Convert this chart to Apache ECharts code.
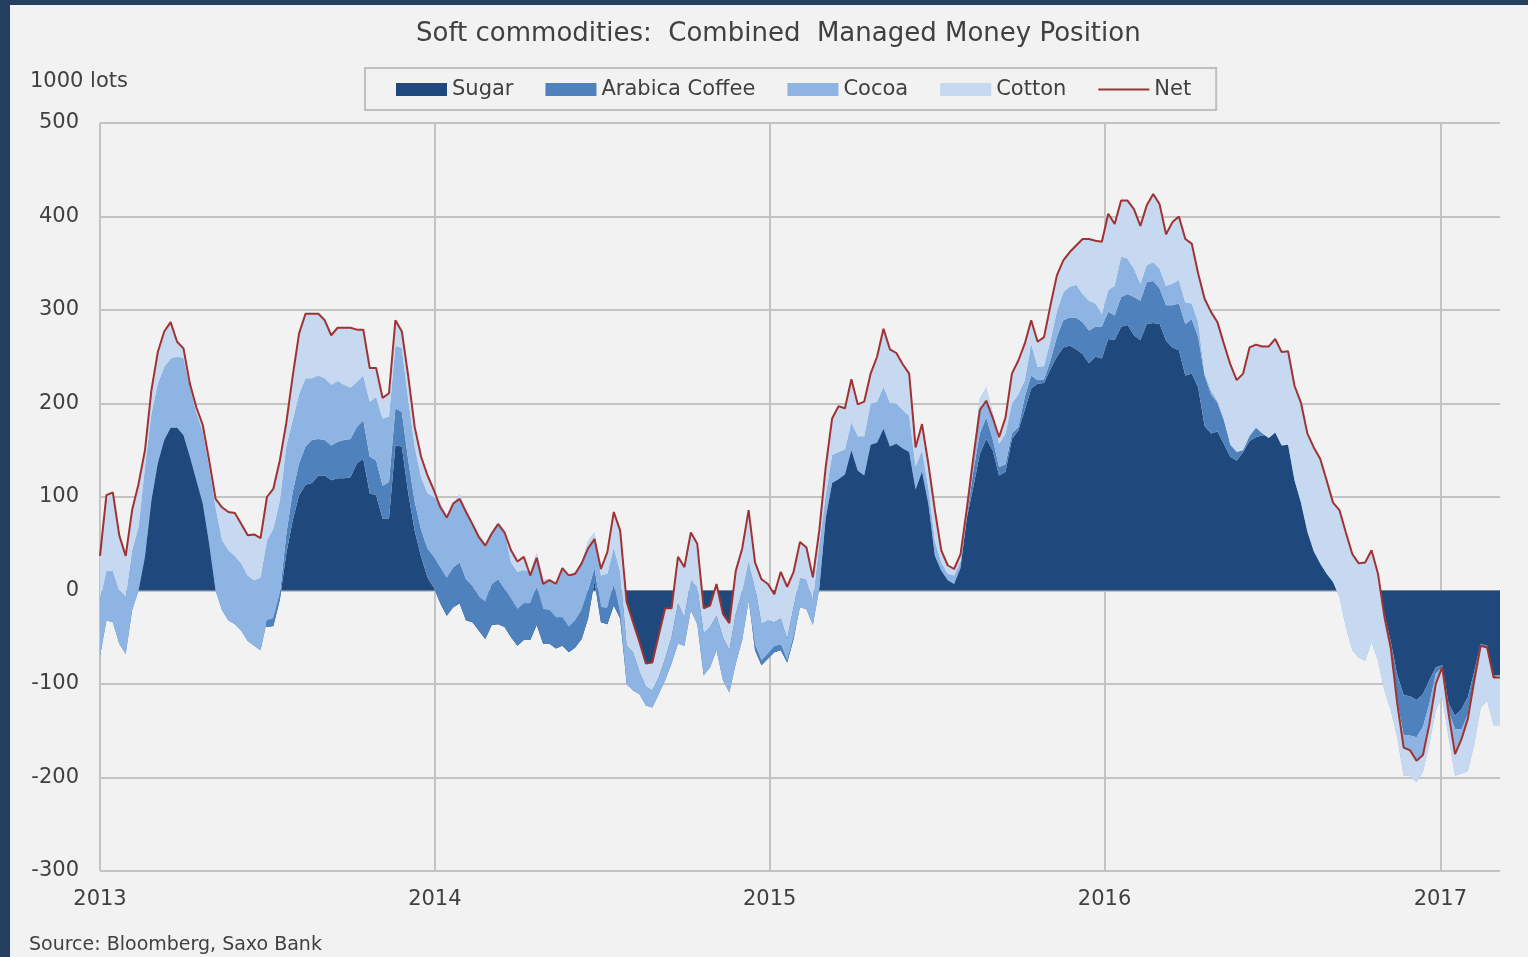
<!DOCTYPE html>
<html>
<head>
<meta charset="utf-8">
<title>Soft commodities: Combined Managed Money Position</title>
<script src="https://cdn.jsdelivr.net/npm/echarts@6.0.0/dist/echarts.min.js"></script>
<style>
html, body { margin: 0; padding: 0; background: #f2f2f2; }
#chart { width: 1528px; height: 957px; }
</style>
</head>
<body>
<div id="chart"></div>
<script>
// weekly CFTC reports, first one on 2013-01-01, 219 weeks
const firstWeek = Date.UTC(2013, 0, 1);
const weekCount = 219;
const weeks = [];
for (let i = 0; i < weekCount; i++) {
    weeks.push(new Date(firstWeek + i * 7 * 86400000).toISOString().slice(0, 10));
}

// 1000 lots
const sugar = [-40,-20,-20,-30,-35,-10,4,40,100,140,
    165,178,177,170,147,122,97,54,3,-10,
    -15,-18,-22,-28,-30,-32,-39,-38,-10,39,
    75,102,113,115,123,123,118,120,120,121,
    136,141,104,102,77,77,155,154,104,64,
    36,14,3,-14,-27,-18,-14,-32,-34,-43,
    -52,-37,-36,-39,-50,-59,-53,-53,-37,-57,
    -57,-62,-59,-66,-61,-52,-30,10,-34,-36,
    -16,-30,-98,-104,-110,-121,-122,-109,-95,-75,
    -55,-55,-18,-34,-90,-79,-62,-94,-106,-77,
    -51,-8,-64,-80,-73,-66,-64,-77,-52,-16,
    -18,-35,4,80,116,121,127,152,129,125,
    159,160,175,155,160,154,150,109,129,95,
    39,22,13,9,27,78,111,146,162,150,
    123,127,162,171,193,216,221,222,237,250,
    260,262,258,253,243,250,248,269,268,282,
    284,273,268,285,286,285,267,260,257,230,
    232,217,176,168,170,157,143,139,148,160,
    164,166,166,174,158,162,124,98,67,48,
    34,23,14,-3,-15,-25,-28,-30,-22,-25,
    -25,-55,-90,-112,-113,-117,-111,-96,-82,-80,
    -121,-134,-127,-114,-86,-57,-59,-91,-91];

const arabicaCoffee = [-30,-12,-14,-27,-33,-11,-4,-4,-4,-4,
    -4,-4,-3,-4,-4,-4,-4,-4,-3,-11,
    -17,-18,-21,-26,-29,-32,7,8,6,21,
    30,34,41,46,39,38,37,39,41,41,
    39,41,39,37,35,39,40,37,35,31,
    29,31,33,39,41,43,44,44,39,36,
    40,44,48,41,41,39,39,39,41,37,
    36,33,30,27,29,31,30,14,16,17,
    23,5,-2,-3,-1,-2,-3,-2,-1,-3,
    -2,-4,-3,-2,-1,-3,-2,-2,-3,-1,
    -2,-3,5,5,5,6,6,2,2,-2,
    -2,-2,-2,-3,-1,-2,-3,-2,-1,-2,
    -3,-2,-2,-1,-3,-2,-2,-1,-2,-3,
    -2,-1,-2,-2,-3,2,17,22,23,12,
    9,8,6,4,14,14,4,4,9,21,
    29,30,34,34,35,32,34,29,26,32,
    33,41,42,45,45,38,38,45,50,55,
    58,54,54,42,31,25,14,11,5,9,
    15,7,3,2,3,2,1,2,3,2,
    2,1,2,-2,-4,-5,-6,-5,-4,-5,
    -10,-7,-28,-43,-42,-40,-35,-25,-7,-2,
    -9,-14,-22,-18,-10,-2,-2,-2,-2];

const cocoa = [60,53,55,57,61,64,68,96,93,85,
    78,74,76,83,75,72,77,82,89,75,
    75,73,72,70,70,78,86,96,100,94,
    77,74,73,66,68,66,65,65,59,55,
    48,48,59,68,72,70,67,68,65,59,
    56,59,64,68,66,68,73,74,67,67,
    62,56,61,62,39,40,36,34,36,32,
    33,34,52,53,52,51,53,38,34,37,
    39,45,41,41,24,20,18,18,23,28,
    43,30,33,40,45,43,37,46,45,53,
    53,43,63,39,36,26,28,23,32,32,
    32,26,48,25,30,29,27,30,37,42,
    44,44,45,47,43,41,39,25,23,18,
    16,9,7,9,7,8,17,37,32,28,
    25,33,32,35,18,34,14,14,21,28,
    30,33,35,30,32,25,14,23,32,43,
    38,30,18,18,20,21,21,23,25,23,
    17,16,2,4,2,2,-1,-2,-3,-4,
    -5,-5,-6,-7,-6,-8,-7,-6,-7,-8,
    -7,-6,-7,-2,-20,-34,-38,-40,-29,-45,
    -72,-66,-39,-43,-43,-48,-48,-43,-39,-32,
    -27,-50,-47,-61,-68,-66,-57,-51,-51];

const cotton = [47,81,84,59,44,43,46,18,25,34,
    38,39,16,10,3,6,7,7,9,35,
    41,46,42,43,49,42,46,43,43,25,
    47,65,69,69,66,62,53,57,61,64,
    56,49,36,31,22,25,27,18,25,21,
    22,19,7,-4,-2,0,-5,-2,-1,-3,
    -2,-2,-2,-2,13,11,14,-4,-5,-5,
    -1,2,1,2,-2,-1,-8,-7,7,23,
    38,44,47,32,32,25,30,45,54,31,
    50,54,50,46,27,23,34,25,29,46,
    45,54,26,48,39,30,50,56,38,38,
    34,25,14,30,39,49,44,46,34,37,
    32,48,62,57,54,49,45,20,28,25,
    33,13,9,7,8,1,-2,-12,-14,-5,
    7,17,32,36,39,25,27,31,38,38,
    34,37,42,59,66,67,77,82,66,60,
    62,64,62,64,73,69,55,66,68,68,
    64,52,80,84,84,80,86,77,82,95,
    89,93,98,100,100,100,101,107,105,111,
    112,100,85,93,101,103,101,105,98,93,
    79,66,36,30,27,23,18,21,28,32,
    25,23,37,56,68,66,57,51,51];

const net = [37,102,105,59,37,86,114,150,214,255,
    277,287,266,259,221,196,177,139,98,89,
    84,83,71,59,60,56,100,109,139,179,
    229,275,296,296,296,289,273,281,281,281,
    279,279,238,238,206,211,289,277,229,175,
    143,123,107,89,78,93,98,84,71,57,
    48,61,71,62,43,31,36,16,35,7,
    11,7,24,16,18,29,45,55,23,41,
    84,64,-12,-34,-55,-78,-77,-48,-19,-19,
    36,25,62,50,-19,-16,7,-25,-35,21,
    45,86,30,12,7,-4,20,4,20,52,
    46,14,64,132,184,197,195,226,199,202,
    232,250,280,258,254,242,232,153,178,135,
    86,43,27,23,39,89,143,193,203,185,
    164,185,232,246,264,289,266,271,305,337,
    353,362,369,376,376,374,373,403,392,417,
    417,408,390,412,424,413,381,394,400,376,
    371,339,312,298,287,264,242,225,232,260,
    263,261,261,269,255,256,219,201,168,153,
    141,118,94,86,62,39,29,30,43,18,
    -28,-62,-121,-168,-171,-182,-176,-143,-100,-82,
    -132,-175,-159,-137,-96,-59,-61,-93,-93];

const yearTicks = ['2013', '2014', '2015', '2016', '2017'];

const FONT = '"DejaVu Sans", Verdana, sans-serif';
const TEXT = '#404040';
const GRID = '#c3c3c3';
const NET_RED = '#a03232';

const chart = echarts.init(document.getElementById('chart'));

function areaSeries(name, values, color) {
    return {
        name: name,
        type: 'line',
        stack: 'positions',
        stackStrategy: 'all',
        symbol: 'none',
        color: color,
        lineStyle: { width: 0, opacity: 0 },
        areaStyle: { color: color, opacity: 1 },
        emphasis: { disabled: true },
        data: values.map((v, i) => [weeks[i], v])
    };
}

chart.setOption({
    animation: false,
    backgroundColor: '#f2f2f2',
    textStyle: { fontFamily: FONT },
    title: [
        {
            text: 'Soft commodities:  Combined  Managed Money Position',
            left: 416, top: 21, padding: 0,
            textStyle: { fontSize: 26, fontWeight: 'normal', color: TEXT, fontFamily: FONT }
        },
        {
            text: '1000 lots',
            left: 30, top: 71, padding: 0,
            textStyle: { fontSize: 21, fontWeight: 'normal', color: TEXT, fontFamily: FONT }
        },
        {
            text: 'Source: Bloomberg, Saxo Bank',
            left: 29, top: 936, padding: 0,
            textStyle: { fontSize: 19, fontWeight: 'normal', color: TEXT, fontFamily: FONT }
        }
    ],
    legend: {
        left: 365, top: 68,
        padding: [11, 25, 10, 31],
        itemWidth: 51, itemHeight: 13, itemGap: 32,
        symbolKeepAspect: true,
        borderColor: '#bfbfbf', borderWidth: 2,
        textStyle: { fontSize: 21, color: TEXT, fontFamily: FONT },
        data: [
            { name: 'Sugar', icon: 'rect' },
            { name: 'Arabica Coffee', icon: 'rect' },
            { name: 'Cocoa', icon: 'rect' },
            { name: 'Cotton', icon: 'rect' },
            { name: 'Net', icon: 'path://M0,0H52V2H0Z', itemStyle: { color: NET_RED } }
        ]
    },
    grid: { left: 100, top: 123, width: 1400, height: 748 },
    xAxis: {
        type: 'time',
        min: weeks[0],
        max: weeks[weeks.length - 1],
        splitNumber: 4,
        minInterval: 365 * 86400000,
        axisLine: { show: false },
        axisTick: { show: false },
        axisLabel: {
            fontSize: 21, color: TEXT, fontFamily: FONT, margin: 18,
            showMaxLabel: false, showMinLabel: true,
            formatter: function (v) {
                const y = String(new Date(v).getFullYear());
                return yearTicks.indexOf(y) >= 0 ? y : '';
            }
        },
        splitLine: { show: true, showMaxLine: false, lineStyle: { color: GRID, width: 2 } }
    },
    yAxis: {
        type: 'value',
        min: -300, max: 500, interval: 100,
        axisLine: { show: false },
        axisTick: { show: false },
        axisLabel: { fontSize: 21, color: TEXT, fontFamily: FONT, margin: 21 },
        splitLine: { lineStyle: { color: GRID, width: 2 } }
    },
    graphic: [
        { type: 'rect', left: 0, top: 0, shape: { width: 10, height: 957 }, style: { fill: '#243f60' } },
        { type: 'rect', left: 0, top: 0, shape: { width: 1528, height: 5 }, style: { fill: '#243f60' } }
    ],
    series: [
        areaSeries('Sugar', sugar, '#1f497d'),
        areaSeries('Arabica Coffee', arabicaCoffee, '#4f81bd'),
        areaSeries('Cocoa', cocoa, '#8db4e2'),
        areaSeries('Cotton', cotton, '#c6d9f1'),
        {
            name: 'Net',
            type: 'line',
            symbol: 'none',
            color: NET_RED,
            lineStyle: { width: 2, color: NET_RED },
            emphasis: { disabled: true },
            z: 3,
            data: net.map((v, i) => [weeks[i], v])
        }
    ]
});
</script>
</body>
</html>
